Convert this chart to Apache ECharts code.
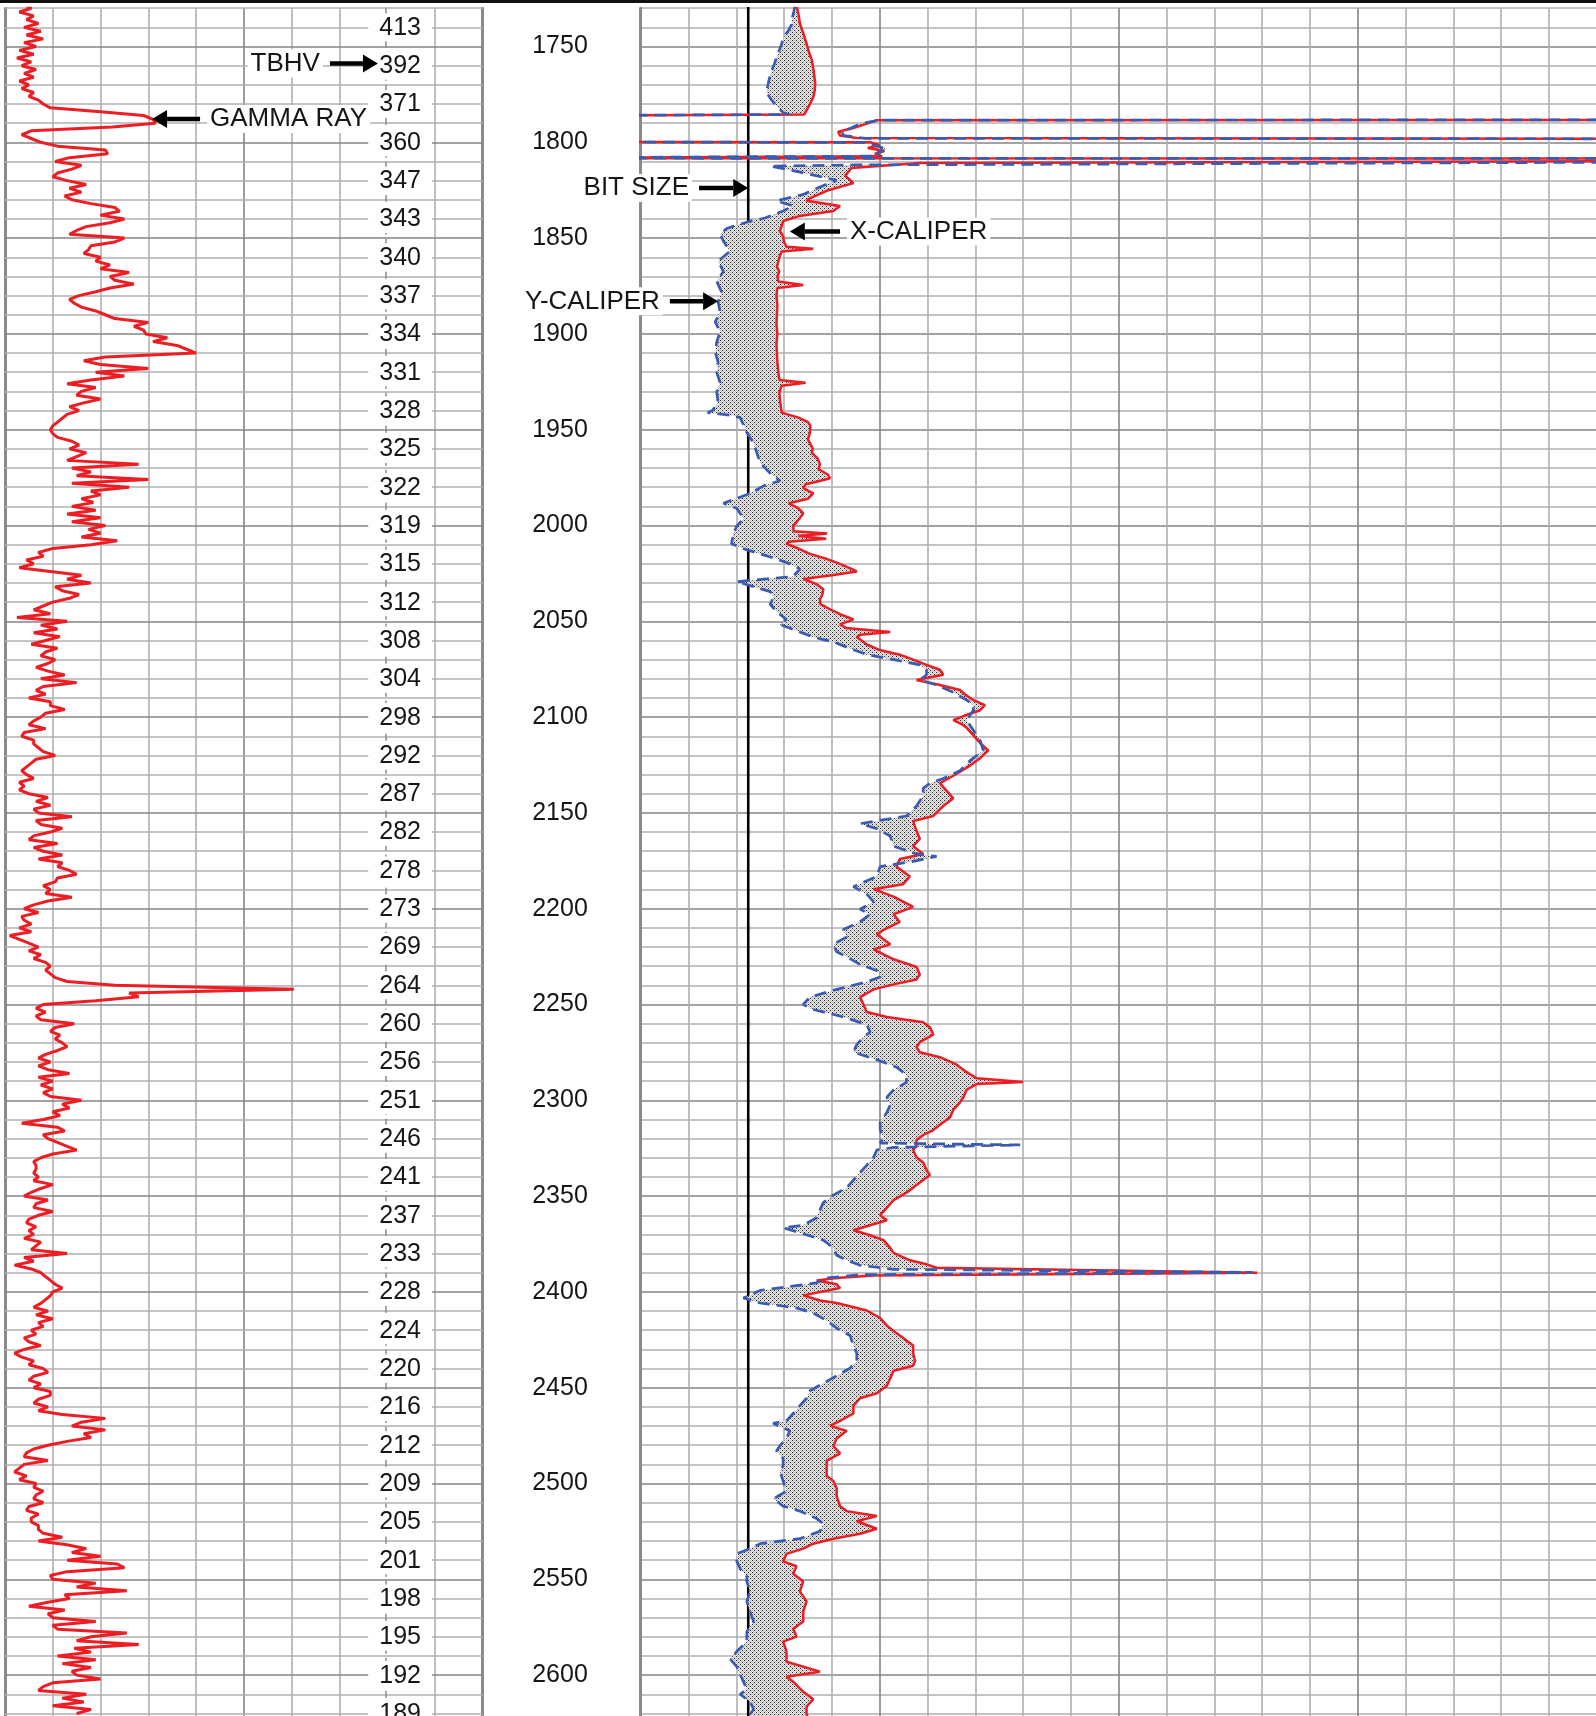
<!DOCTYPE html>
<html>
<head>
<meta charset="utf-8">
<script src="https://cdn.jsdelivr.net/npm/echarts@6/dist/echarts.min.js"></script>
<style>
  html, body { margin: 0; padding: 0; background: #ffffff; }
  #chart { width: 1596px; height: 1716px; }
</style>
</head>
<body>
<div id="chart"></div>
<script>
// ---- depth range shared by both tracks (ft) ----
const depthMin = 1730;
const depthMax = 2630;

// ---- gamma ray curve, sampled every 2 ft from 1728 ft ----
const gammaStartDepth = 1728;
const gammaStep = 2;
const gammaRay = [
  8, 11, 6, 12, 9, 14, 8, 15, 9, 16,
  8, 13, 6, 12, 5, 11, 7, 13, 8, 12,
  6, 10, 7, 12, 10, 14, 16, 19, 40, 58,
  62, 63, 45, 11, 7, 11, 15, 22, 42, 43,
  27, 21, 32, 28, 22, 20, 26, 34, 27, 32,
  25, 28, 36, 46, 48, 40, 50, 44, 34, 30,
  27, 50, 46, 36, 35, 33, 40, 38, 44, 40,
  52, 44, 46, 54, 44, 38, 31, 27, 29, 32,
  38, 42, 46, 60, 54, 58, 59, 68, 62, 72,
  76, 80, 42, 33, 40, 60, 38, 50, 36, 26,
  38, 32, 30, 40, 33, 27, 31, 26, 24, 22,
  20, 19, 20, 22, 28, 31, 27, 34, 30, 26,
  56, 28, 36, 30, 60, 28, 52, 36, 40, 32,
  37, 28, 38, 26, 40, 28, 42, 35, 40, 32,
  47, 36, 20, 14, 16, 9, 12, 6, 19, 32,
  26, 36, 21, 24, 31, 27, 20, 16, 12, 19,
  5, 26, 15, 22, 12, 23, 17, 11, 22, 17,
  15, 21, 18, 13, 18, 25, 15, 30, 16, 13,
  17, 10, 19, 19, 25, 17, 15, 12, 10, 17,
  8, 7, 12, 12, 14, 16, 21, 13, 11, 9,
  7, 9, 12, 6, 8, 6, 10, 18, 13, 19,
  12, 14, 28, 13, 15, 24, 19, 12, 10, 22,
  12, 16, 24, 14, 24, 22, 27, 30, 22, 21,
  16, 19, 17, 28, 18, 12, 8, 14, 7, 8,
  11, 6, 11, 2, 6, 10, 14, 10, 15, 12,
  17, 19, 17, 19, 21, 26, 46, 121, 52, 56,
  38, 16, 13, 17, 13, 15, 29, 21, 19, 23,
  21, 24, 26, 22, 17, 14, 19, 14, 18, 27,
  14, 20, 15, 20, 16, 19, 32, 24, 27, 20,
  23, 16, 7, 22, 25, 16, 18, 22, 26, 30,
  20, 15, 12, 13, 13, 12, 14, 12, 20, 15,
  11, 8, 18, 13, 12, 20, 14, 10, 9, 13,
  10, 12, 8, 15, 13, 11, 26, 8, 12, 4,
  11, 15, 17, 19, 21, 24, 20, 19, 17, 15,
  12, 18, 13, 20, 14, 16, 11, 13, 8, 10,
  15, 8, 4, 7, 12, 10, 16, 18, 12, 10,
  15, 12, 19, 19, 14, 12, 18, 14, 24, 42,
  32, 28, 42, 33, 36, 26, 18, 12, 9, 8,
  18, 8, 6, 4, 9, 6, 13, 12, 16, 13,
  12, 16, 10, 9, 14, 11, 11, 14, 14, 16,
  24, 14, 26, 34, 28, 40, 26, 47, 50, 26,
  19, 20, 38, 30, 51, 25, 27, 18, 10, 25,
  18, 20, 38, 20, 22, 51, 36, 30, 56, 29,
  36, 22, 38, 24, 36, 28, 30, 40, 20, 16,
  14, 34, 24, 33, 20, 36, 30
];

// ---- TBHV tick labels, one every 20 ft from 1740 ft ----
const tbhvStartDepth = 1740;
const tbhvStep = 20;
const tbhvLabels = [
  '413', '392', '371', '360', '347', '343', '340', '337', '334', '331',
  '328', '325', '322', '319', '315', '312', '308', '304', '298', '292',
  '287', '282', '278', '273', '269', '264', '260', '256', '251', '246',
  '241', '237', '233', '228', '224', '220', '216', '212', '209', '205',
  '201', '198', '195', '192', '189'
];

// ---- calipers: [depth ft, diameter in]; 2 / 40 are off-scale readings ----
const xCaliper = [
  [1728.6, 9.26], [1733, 9.30], [1738, 9.33], [1743, 9.40], [1748.5, 9.47], [1753, 9.52], [1757, 9.58],
  [1763, 9.62], [1769, 9.65], [1773, 9.64], [1776.5, 9.61], [1779, 9.56], [1782, 9.50], [1785.5, 9.42],
  [1786.2, 2], [1799.6, 2],
  [1800.0, 10.80], [1801.5, 11.00], [1803, 10.75], [1804.5, 11.10], [1806, 10.90], [1807.3, 11.05],
  [1808.3, 2], [1808.5, 40], [1788.2, 40],
  [1788.5, 10.94], [1790.5, 10.70], [1792.5, 10.45], [1794.5, 10.13], [1796.5, 10.17], [1797.8, 10.52],
  [1798.4, 40], [1808.9, 40],
  [1810.8, 11.85], [1813.4, 10.41], [1817.4, 10.28], [1821.3, 10.45], [1825.3, 9.89], [1829.2, 9.54],
  [1830.5, 9.47], [1833.2, 10.17], [1835.8, 10.03], [1838.4, 9.33], [1841.1, 8.98], [1843.7, 8.95],
  [1846.3, 8.91], [1849, 8.98], [1852, 9.00], [1854.5, 9.05], [1855.5, 9.61], [1857, 8.95], [1860, 8.90],
  [1862.1, 8.88], [1865, 8.85], [1867.4, 8.90], [1870, 8.86], [1872.6, 8.88], [1874.5, 9.40], [1876, 8.86],
  [1880, 8.84], [1885, 8.86], [1890, 8.85], [1895, 8.84], [1900, 8.86], [1905, 8.84], [1910, 8.85],
  [1915, 8.86], [1920, 8.88], [1924, 8.90], [1925.5, 9.45], [1927, 8.95], [1930.5, 8.90], [1935.8, 8.92],
  [1941.1, 8.95], [1943.7, 9.30], [1946, 9.50], [1948, 9.55], [1951.6, 9.54], [1955, 9.50], [1957.5, 9.55],
  [1960, 9.60], [1962.1, 9.58], [1965, 9.70], [1968, 9.75], [1970.5, 9.72], [1973.5, 9.92], [1975.3, 9.96],
  [1977, 9.70], [1978.5, 9.45], [1980.5, 9.40], [1983.2, 9.61], [1986, 9.50], [1988.4, 9.10], [1991, 9.30],
  [1993.7, 9.40], [1997, 9.30], [2000.3, 9.19], [2003, 9.20], [2004.2, 9.90], [2005.5, 9.30], [2006.9, 9.88],
  [2008.5, 9.10], [2009.5, 9.05], [2012, 9.30], [2014.8, 9.54], [2017.5, 9.90], [2020, 10.17], [2022, 10.35],
  [2024, 10.52], [2026, 10.00], [2027.9, 9.40], [2030.6, 9.68], [2033.2, 9.82], [2036, 9.80], [2038.5, 9.75],
  [2041, 9.76], [2043.7, 9.96], [2046.3, 10.17], [2049, 10.45], [2051.6, 10.17], [2053.5, 10.30],
  [2055.6, 11.22], [2057, 10.60], [2058.2, 10.52], [2062.1, 10.73], [2065, 11.00], [2067.4, 11.42],
  [2070, 11.70], [2072.7, 11.98], [2075.3, 12.26], [2077.9, 12.33], [2080.6, 11.77], [2083.2, 12.26],
  [2085.8, 12.68], [2088.5, 12.80], [2091.1, 12.96], [2093.7, 13.20], [2096.4, 13.10], [2099, 12.80],
  [2101.6, 12.54], [2103.5, 12.70], [2105.6, 12.82], [2109.5, 12.96], [2113.5, 13.10], [2117.4, 13.27],
  [2121.4, 13.10], [2125.3, 12.89], [2130.6, 12.54], [2134.5, 12.26], [2138.5, 12.40], [2142.4, 12.54],
  [2146.4, 12.33], [2151.6, 12.12], [2154.3, 11.70], [2159.5, 11.77], [2163.5, 11.84], [2167.4, 11.70],
  [2171.4, 11.91], [2174, 11.42], [2178, 11.35], [2183.2, 11.63], [2187.2, 11.49], [2189.8, 10.87],
  [2193.7, 11.29], [2199, 11.70], [2202.9, 11.29], [2206.9, 11.42], [2210.8, 11.10], [2213.3, 10.94],
  [2218.6, 11.22], [2221.2, 10.87], [2226.4, 11.29], [2230.4, 11.77], [2234.3, 11.84], [2236.9, 11.77],
  [2239.5, 11.29], [2242.1, 10.87], [2246.1, 10.59], [2250, 10.66], [2253.9, 10.73], [2256.5, 11.15],
  [2259.2, 11.91], [2261.8, 12.05], [2265.7, 12.12], [2269.6, 11.84], [2272.3, 11.77], [2274.9, 11.84],
  [2277.5, 12.26], [2281.4, 12.61], [2285.3, 12.82], [2288.5, 13.03], [2290.5, 14.00], [2291.5, 13.03],
  [2292.5, 12.96], [2294.5, 12.82], [2298.4, 12.75], [2301.1, 12.68], [2305, 12.54], [2308.9, 12.47],
  [2311.5, 12.33], [2315.5, 12.12], [2318.1, 11.91], [2320.7, 11.77], [2323.3, 11.77], [2325.9, 11.70],
  [2329.8, 11.77], [2332.5, 11.91], [2336.4, 11.98], [2339, 12.05], [2341.6, 11.91], [2344.2, 11.77],
  [2348.2, 11.56], [2352.1, 11.29], [2356, 11.15], [2360, 11.01], [2362.6, 11.15], [2365.2, 10.80],
  [2367.8, 10.45], [2370.4, 10.80], [2373, 11.08], [2377, 11.22], [2379.6, 11.29], [2383.5, 11.63],
  [2385.6, 11.98], [2387.4, 12.19], [2390.0, 18.90], [2391.4, 10.87], [2392.7, 10.10], [2394, 9.68],
  [2396, 10.10], [2398, 10.17], [2401.8, 9.40], [2404.5, 9.75], [2405.8, 10.10], [2409.7, 10.73],
  [2413.6, 11.01], [2417.6, 11.15], [2421.5, 11.35], [2425.4, 11.56], [2428, 11.70], [2432, 11.70],
  [2435.9, 11.74], [2438.5, 11.70], [2441.1, 11.29], [2445, 11.22], [2449, 11.15], [2452.9, 10.94],
  [2455.5, 10.59], [2459.4, 10.45], [2463.4, 10.45], [2467.3, 10.17], [2469.9, 9.96], [2472.5, 10.31],
  [2476.5, 10.10], [2480.4, 10.03], [2484.3, 10.17], [2488.2, 9.89], [2492.2, 9.89], [2496.1, 9.89],
  [2498.7, 10.03], [2502.6, 10.10], [2506.6, 10.10], [2511.8, 10.17], [2514.4, 10.31], [2517, 10.94],
  [2519.7, 10.52], [2523.6, 10.94], [2526.2, 10.59], [2528.8, 10.03], [2531.4, 9.61], [2534, 9.40],
  [2536.7, 9.05], [2540.6, 8.98], [2543.2, 9.26], [2547.1, 9.19], [2551.1, 9.40], [2556.3, 9.33],
  [2561.5, 9.47], [2566.8, 9.40], [2572, 9.40], [2575.9, 9.19], [2579.9, 9.26], [2582.5, 8.98],
  [2587.7, 9.05], [2593, 9.05], [2598.2, 9.75], [2600.8, 9.05], [2603.4, 9.19], [2608.7, 9.40],
  [2612.6, 9.61], [2616.5, 9.47], [2620.4, 9.47], [2622.5, 9.50]
];

const yCaliper = [
  [1728.6, 9.23], [1732, 9.20], [1736, 9.16], [1739, 9.15], [1741.6, 9.09], [1745, 9.00], [1748.5, 8.95],
  [1752, 8.90], [1755.7, 8.84], [1759, 8.80], [1762.5, 8.74], [1766, 8.70], [1769, 8.67], [1774, 8.63],
  [1778, 8.74], [1782, 8.88], [1784.5, 8.98], [1785.5, 9.10],
  [1786.3, 2], [1799.6, 2],
  [1800.1, 10.70], [1802, 10.95], [1803.5, 11.15], [1805.5, 10.95], [1807.2, 11.00],
  [1808.3, 2], [1808.5, 40], [1788.2, 40],
  [1788.4, 11.00], [1790.3, 10.60], [1792.5, 10.40], [1794.5, 10.20], [1796.5, 10.25], [1797.9, 10.70],
  [1798.4, 40], [1809.2, 40],
  [1811.8, 10.50], [1812.4, 8.71], [1814.8, 9.19], [1819.8, 10.10], [1823.3, 9.75], [1827.2, 9.40],
  [1830.5, 8.84], [1833.2, 9.19], [1835.8, 8.98], [1839.5, 8.60], [1841.1, 8.30], [1843.7, 7.95],
  [1845, 7.80], [1847.6, 7.66], [1851.6, 7.73], [1856.8, 7.87], [1862.1, 7.62], [1867.4, 7.73],
  [1872.6, 7.59], [1877.9, 7.69], [1883.2, 7.62], [1888.4, 7.66], [1893.7, 7.56], [1899, 7.66],
  [1904.2, 7.59], [1909.5, 7.56], [1914.8, 7.62], [1920, 7.59], [1925.3, 7.66], [1930.5, 7.59],
  [1935.8, 7.62], [1940, 7.50], [1941.1, 7.40], [1942.5, 7.90], [1943.7, 8.08], [1947.6, 8.15],
  [1951.6, 8.22], [1956.8, 8.36], [1962.1, 8.43], [1967.4, 8.50], [1972.7, 8.71], [1976.6, 8.91],
  [1979.3, 8.57], [1983.2, 8.29], [1988.4, 7.73], [1991, 8.01], [1996.3, 8.15], [2000.3, 8.01],
  [2004.2, 7.94], [2009.5, 7.90], [2012.1, 8.15], [2014.8, 8.50], [2017.4, 8.84], [2020, 9.12],
  [2022.7, 9.33], [2026.6, 9.19], [2029.3, 8.01], [2031.9, 8.36], [2034.5, 8.71], [2037.2, 8.78],
  [2041.1, 8.71], [2045, 8.84], [2049, 9.05], [2051.6, 8.91], [2055.6, 9.33], [2058.2, 9.61],
  [2060.8, 10.03], [2064.8, 10.45], [2067.4, 10.73], [2070, 11.29], [2072.7, 11.84], [2075.3, 11.98],
  [2077.9, 11.98], [2080.6, 11.84], [2083.2, 12.19], [2087.1, 12.54], [2091.1, 12.82], [2093.7, 12.96],
  [2096.4, 12.96], [2101.6, 12.82], [2106.9, 12.96], [2112.2, 13.10], [2117.4, 13.17], [2122.7, 12.89],
  [2128, 12.68], [2132, 12.33], [2134.5, 12.05], [2137.2, 11.91], [2141.1, 11.91], [2146.4, 11.77],
  [2151.6, 11.56], [2155.6, 10.59], [2158.2, 10.94], [2162.1, 11.22], [2167.4, 11.29], [2171.4, 11.77],
  [2172.7, 12.19], [2175.3, 11.70], [2178, 11.01], [2183.2, 10.94], [2188.5, 10.45], [2192.4, 10.73],
  [2196.3, 10.87], [2200.3, 10.59], [2202.9, 10.80], [2206.9, 10.59], [2210.8, 10.24], [2214.7, 10.31],
  [2218.6, 10.03], [2222.5, 10.10], [2225.1, 10.31], [2229.1, 10.59], [2233, 11.01], [2235.6, 11.01],
  [2238.2, 10.73], [2242.1, 10.10], [2246.1, 9.54], [2250, 9.40], [2252.6, 9.61], [2256.5, 10.24],
  [2260.5, 10.73], [2264.4, 10.80], [2267, 10.66], [2270.9, 10.52], [2274.9, 10.45], [2278.8, 10.94],
  [2282.7, 11.35], [2286.7, 11.56], [2290.6, 11.56], [2294.5, 11.29], [2298.4, 11.15], [2302.4, 11.22],
  [2306.3, 11.15], [2311.5, 11.01], [2315.5, 11.01], [2319.4, 11.08], [2322.3, 11.01], [2323.3, 13.94],
  [2324.6, 11.29], [2325.9, 10.94], [2329.8, 10.87], [2333.8, 10.73], [2337.7, 10.59], [2341.6, 10.45],
  [2345.6, 10.31], [2349.5, 10.03], [2353.4, 9.82], [2357.3, 9.75], [2361.3, 9.68], [2365.2, 9.40],
  [2366.5, 8.98], [2369.1, 9.33], [2373, 9.82], [2377, 10.03], [2380.9, 10.10], [2383.5, 10.31],
  [2386.1, 10.59], [2388.2, 11.29], [2389.8, 18.80], [2391.0, 10.59], [2392.7, 9.89], [2395.3, 9.68],
  [2399.2, 8.50], [2403.2, 8.15], [2405.8, 8.50], [2408.4, 9.26], [2411, 9.61], [2414.9, 9.89],
  [2418.9, 10.10], [2422.8, 10.38], [2428, 10.45], [2432, 10.52], [2435.9, 10.52], [2439.8, 10.38],
  [2443.7, 10.10], [2447.7, 9.82], [2451.6, 9.54], [2455.5, 9.47], [2459.4, 9.33], [2463.4, 9.19],
  [2467.3, 9.05], [2468.6, 8.77], [2472.5, 9.12], [2476.5, 9.05], [2480.4, 8.91], [2483, 8.84],
  [2486.9, 8.98], [2490.9, 8.98], [2493.5, 8.91], [2498.7, 8.98], [2504, 9.05], [2507.9, 8.78],
  [2511.8, 8.98], [2514.4, 9.33], [2518.3, 9.68], [2521, 9.82], [2524.9, 9.75], [2528.8, 9.33],
  [2531.4, 8.50], [2534, 8.29], [2536.7, 8.01], [2540.6, 8.01], [2544.5, 8.08], [2548.5, 8.22],
  [2551.1, 8.22], [2556.3, 8.29], [2561.5, 8.22], [2566.8, 8.29], [2572, 8.36], [2577.3, 8.22],
  [2582.5, 8.22], [2587.7, 8.01], [2591.6, 7.87], [2595.6, 8.01], [2599.5, 8.08], [2603.4, 8.15],
  [2607.4, 8.22], [2610, 8.08], [2613.9, 8.29], [2617.8, 8.36], [2620.4, 8.29], [2622.5, 8.30]
];

const bitSize = 8.25;
const bitSizeDepths = [1728, 2632];

// ---- callouts: arrow from tail to tip at a given depth ----
const gammaNotes = [
  { name: 'TBHV', tip: 156.2, tail: 136.1, depth: 1758.8 },
  { name: 'GAMMA RAY', tip: 61.6, tail: 81.7, depth: 1787.8 }
];
const caliperNotes = [
  { name: 'BIT SIZE', tip: bitSize, tail: 7.22, depth: 1823.9 },
  { name: 'X-CALIPER', tip: 9.12, tail: 10.17, depth: 1846.5 },
  { name: 'Y-CALIPER', tip: 7.62, tail: 6.61, depth: 1883.0 }
];

// ---- axis scales ----
const grMin = 0, grMax = 200, grStep = 20;
const calMin = 6, calMax = 26, calStep = 1;

// ---- styling ----
const FONT = '"Liberation Sans", Arial, Helvetica, sans-serif';
const GRID_DARK = '#858585';
const GRID_LIGHT = '#b0b0b0';
const RED = '#ee1d23';
const BLUE = '#3a5bb0';
const pxPerFt = 1.916;
const plotTop = 8.2;
const plotHeight = (depthMax - depthMin) * pxPerFt;

// stippled grey used between the two caliper traces
function stipplePattern() {
  const c = document.createElement('canvas');
  c.width = 4; c.height = 4;
  const g = c.getContext('2d');
  const K = '#1e1e1e', W = '#ececec', G = '#bdbdbd';
  const cells = [
    [K, W, G, W],
    [W, G, W, G],
    [G, W, K, W],
    [W, G, W, G]
  ];
  for (let r = 0; r < 4; r++) {
    for (let q = 0; q < 4; q++) {
      g.fillStyle = cells[r][q];
      g.fillRect(q, r, 1, 1);
    }
  }
  return { image: c, repeat: 'repeat' };
}
const stipple = stipplePattern();

// split a caliper into the stretches that stay on scale
function onScaleRuns(points) {
  const out = [];
  let cur = [];
  points.forEach(function (p) {
    if (p[1] >= calMin && p[1] <= calMax) {
      cur.push(p);
    } else {
      if (cur.length > 1) out.push(cur);
      cur = [];
    }
  });
  if (cur.length > 1) out.push(cur);
  return out;
}
const xRuns = onScaleRuns(xCaliper);
const yRuns = onScaleRuns(yCaliper);

function noteRenderer(notes) {
  return function (params, api) {
    const n = notes[params.dataIndex];
    const tip = api.coord([api.value(0), api.value(1)]);
    const tail = api.coord([api.value(2), api.value(1)]);
    const dir = tip[0] > tail[0] ? 1 : -1;
    const base = tip[0] - dir * 15;
    return {
      type: 'group',
      children: [
        { type: 'line', shape: { x1: tail[0], y1: tail[1], x2: base, y2: tail[1] },
          style: { stroke: '#000', lineWidth: 4.5 } },
        { type: 'polygon', shape: { points: [[tip[0], tip[1]], [base, tip[1] - 9], [base, tip[1] + 9]] },
          style: { fill: '#000' } },
        { type: 'text', x: tail[0] - dir * 7, y: tail[1],
          style: { text: n.name, font: '26px ' + FONT, fill: '#161616',
                   align: dir > 0 ? 'right' : 'left', verticalAlign: 'middle',
                   backgroundColor: '#ffffff', padding: [1, 3, 1, 3] } }
      ]
    };
  };
}

function depthAxisBase(gridIndex) {
  return {
    type: 'value', gridIndex: gridIndex, inverse: true,
    min: depthMin, max: depthMax, interval: 10
  };
}

const chart = echarts.init(document.getElementById('chart'), null, { renderer: 'canvas' });

chart.setOption({
  animation: false,
  backgroundColor: '#ffffff',
  graphic: [
    { type: 'line', shape: { x1: 0, y1: 1.5, x2: 1596, y2: 1.5 },
      style: { stroke: '#111', lineWidth: 3 }, silent: true }
  ],
  grid: [
    { left: 5, top: plotTop, width: 477.5, height: plotHeight, containLabel: false, outerBoundsMode: 'none' },
    { left: 640.7, top: plotTop, width: 956, height: plotHeight, containLabel: false, outerBoundsMode: 'none' }
  ],
  xAxis: [
    {
      type: 'value', gridIndex: 0, min: grMin, max: grMax, interval: grStep,
      axisLine: { show: false }, axisTick: { show: false }, axisLabel: { show: false },
      splitLine: { show: true, lineStyle: { width: 1.6,
        color: [GRID_DARK, GRID_LIGHT, GRID_LIGHT, GRID_LIGHT, GRID_LIGHT, GRID_DARK,
                GRID_LIGHT, GRID_LIGHT, 'rgba(0,0,0,0)', GRID_LIGHT, GRID_DARK] } }
    },
    {
      type: 'value', gridIndex: 1, min: calMin, max: calMax, interval: calStep,
      axisLine: { show: false }, axisTick: { show: false }, axisLabel: { show: false },
      splitLine: { show: true, lineStyle: { width: 1.6,
        color: [GRID_DARK, GRID_LIGHT, GRID_LIGHT, GRID_LIGHT, GRID_LIGHT] } }
    }
  ],
  yAxis: [
    // TBHV scale riding inside the gamma track
    Object.assign(depthAxisBase(0), {
      position: 'left', offset: -380.6, z: 1,
      axisLine: { show: true, onZero: false, lineStyle: { color: '#8a8a8a', width: 1.5, type: [6, 5] } },
      axisTick: { show: false },
      axisLabel: {
        show: true, align: 'center', margin: -14.5,
        formatter: function (v) {
          const d = Math.round(v);
          if (d < tbhvStartDepth || (d - tbhvStartDepth) % tbhvStep !== 0) return '';
          const label = tbhvLabels[(d - tbhvStartDepth) / tbhvStep];
          return label ? '{t|' + label + '}' : '';
        },
        rich: { t: { backgroundColor: '#ffffff', padding: [2, 11, 1, 11], fontSize: 25,
                     fontFamily: FONT, color: '#161616', lineHeight: 26 } }
      },
      splitLine: { show: true, lineStyle: { width: 1.6,
        color: [GRID_LIGHT, GRID_LIGHT, GRID_DARK, GRID_LIGHT, GRID_LIGHT] } }
    }),
    // gamma track borders
    Object.assign(depthAxisBase(0), {
      position: 'left', offset: 0,
      axisLine: { show: true, onZero: false, lineStyle: { color: '#8a8a8a', width: 3 } },
      axisTick: { show: false }, axisLabel: { show: false }, splitLine: { show: false }
    }),
    Object.assign(depthAxisBase(0), {
      position: 'right', offset: 0,
      axisLine: { show: true, onZero: false, lineStyle: { color: '#8a8a8a', width: 3 } },
      axisTick: { show: false }, axisLabel: { show: false }, splitLine: { show: false }
    }),
    // measured depth for the caliper track
    Object.assign(depthAxisBase(1), {
      position: 'left', offset: 0,
      axisLine: { show: true, onZero: false, lineStyle: { color: '#8a8a8a', width: 3 } },
      axisTick: { show: false },
      axisLabel: {
        show: true, align: 'center', margin: 80.7, fontSize: 25, fontFamily: FONT, color: '#161616',
        formatter: function (v) {
          const d = Math.round(v);
          return d % 50 === 0 ? String(d) : '';
        }
      },
      splitLine: { show: true, lineStyle: { width: 1.6,
        color: [GRID_LIGHT, GRID_LIGHT, GRID_DARK, GRID_LIGHT, GRID_LIGHT] } }
    })
  ],
  series: [
    {
      name: 'Gamma ray', type: 'line', xAxisIndex: 0, yAxisIndex: 0,
      data: gammaRay.map(function (v, i) { return [v, gammaStartDepth + i * gammaStep]; }),
      symbol: 'none', silent: true, clip: true, z: 3,
      lineStyle: { color: RED, width: 3 }
    },
    {
      name: 'Bit size', type: 'line', xAxisIndex: 1, yAxisIndex: 3,
      data: bitSizeDepths.map(function (d) { return [bitSize, d]; }),
      symbol: 'none', silent: true, clip: true, z: 2,
      lineStyle: { color: '#000', width: 2.6 }
    },
    {
      name: 'Caliper difference', type: 'custom', xAxisIndex: 1, yAxisIndex: 3,
      data: [[bitSize, depthMin]], clip: true, silent: true, z: 3,
      renderItem: function (params, api) {
        const children = [];
        const n = Math.min(xRuns.length, yRuns.length);
        for (let k = 0; k < n; k++) {
          const fwd = xRuns[k].map(function (p) { return api.coord([p[1], p[0]]); });
          const back = yRuns[k].slice().reverse().map(function (p) { return api.coord([p[1], p[0]]); });
          children.push({ type: 'polygon', shape: { points: fwd.concat(back) },
                          style: { fill: stipple, stroke: null } });
        }
        return { type: 'group', children: children };
      }
    },
    {
      name: 'X-caliper', type: 'line', xAxisIndex: 1, yAxisIndex: 3,
      data: xCaliper.map(function (p) { return [p[1], p[0]]; }),
      symbol: 'none', silent: true, clip: true, z: 4,
      lineStyle: { color: RED, width: 2.5 }
    },
    {
      name: 'Y-caliper', type: 'line', xAxisIndex: 1, yAxisIndex: 3,
      data: yCaliper.map(function (p) { return [p[1], p[0]]; }),
      symbol: 'none', silent: true, clip: true, z: 5,
      lineStyle: { color: BLUE, width: 2.7, type: [12, 7] }
    },
    {
      name: 'Gamma notes', type: 'custom', xAxisIndex: 0, yAxisIndex: 0,
      data: gammaNotes.map(function (n) { return [n.tip, n.depth, n.tail]; }),
      renderItem: noteRenderer(gammaNotes), silent: true, z: 8
    },
    {
      name: 'Caliper notes', type: 'custom', xAxisIndex: 1, yAxisIndex: 3,
      data: caliperNotes.map(function (n) { return [n.tip, n.depth, n.tail]; }),
      renderItem: noteRenderer(caliperNotes), silent: true, z: 8
    }
  ]
});
</script>
</body>
</html>
